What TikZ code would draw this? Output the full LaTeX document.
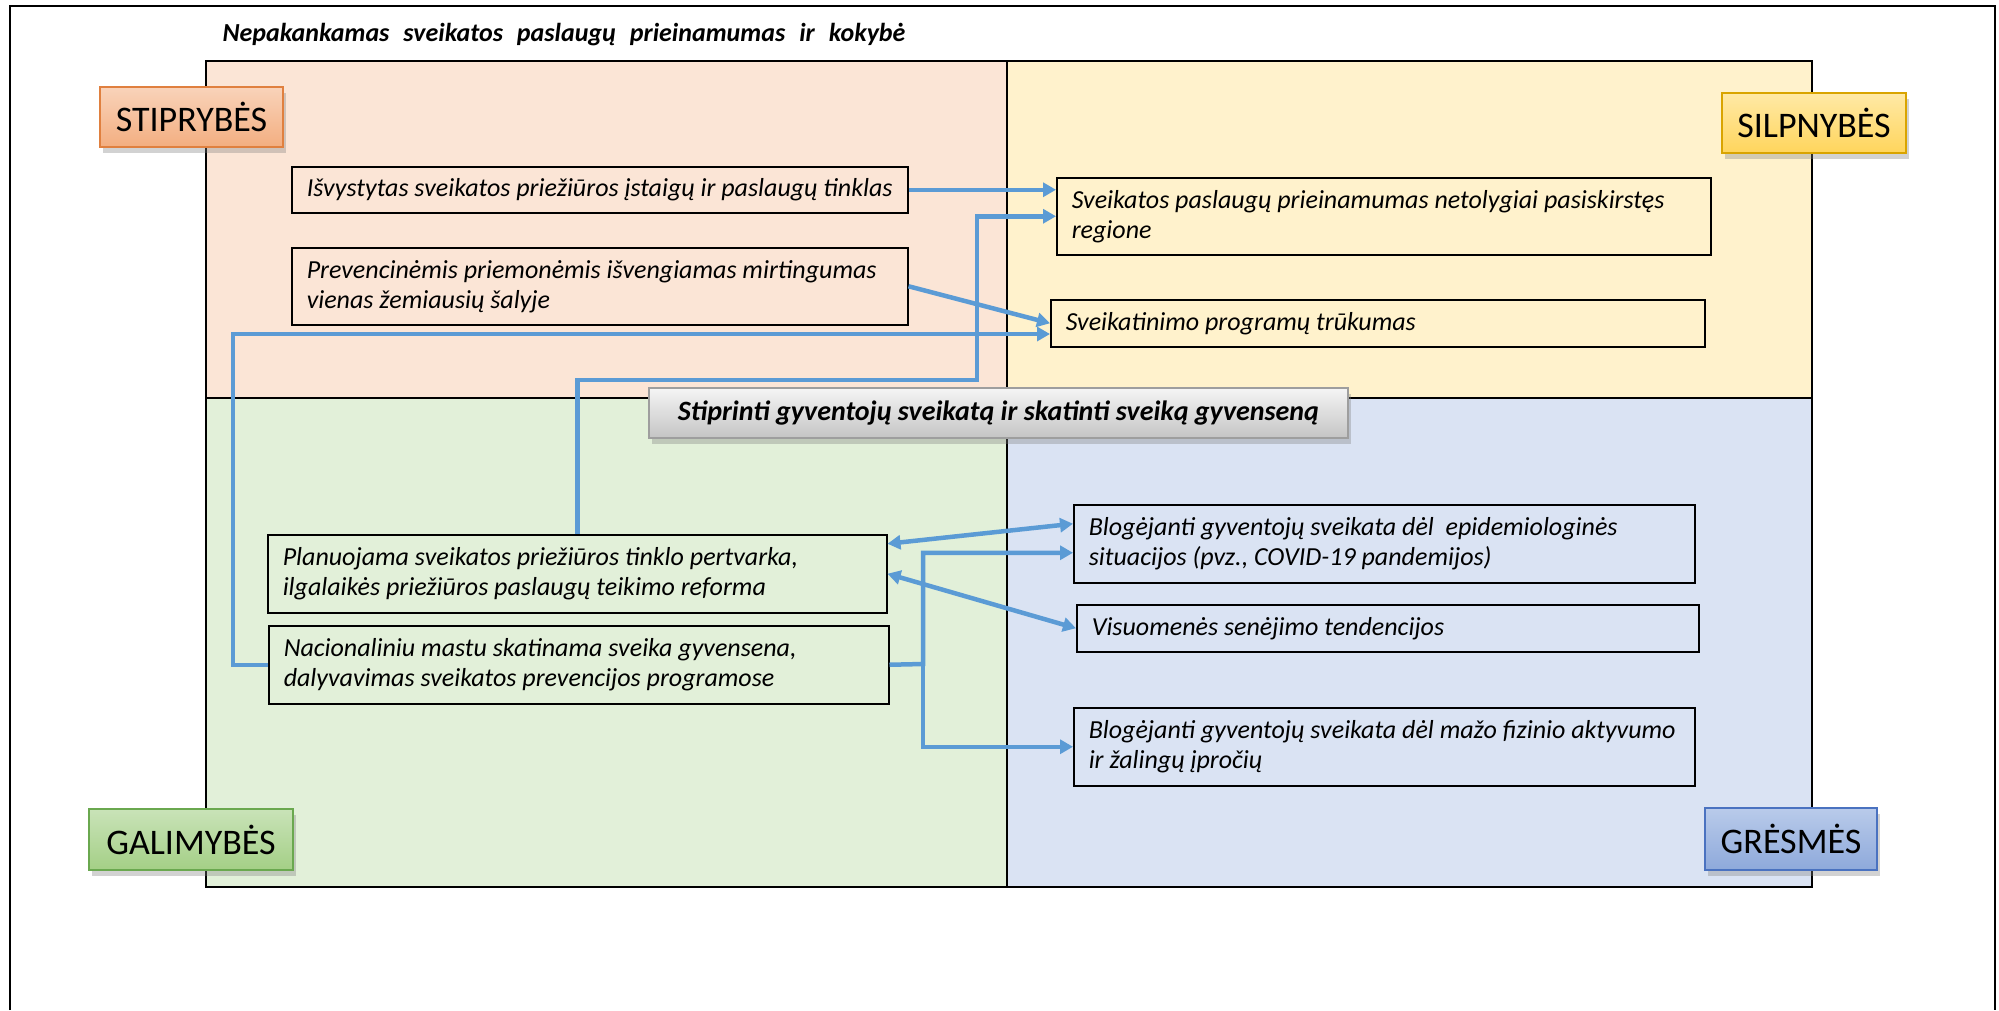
\documentclass[tikz,border=0pt]{standalone}
\usepackage{fontspec}
\setmainfont{Carlito}
\usepackage{xcolor}
\usetikzlibrary{arrows.meta,shadows}
\definecolor{arrblue}{HTML}{5B9BD5}
\definecolor{qpeach}{HTML}{FBE5D6}
\definecolor{qyellow}{HTML}{FFF2CC}
\definecolor{qgreen}{HTML}{E2F0D9}
\definecolor{qblue}{HTML}{DAE3F3}
\definecolor{stiptop}{HTML}{F9D3BA}
\definecolor{stipbot}{HTML}{F3AE80}
\definecolor{stipline}{HTML}{E0803F}
\definecolor{silptop}{HTML}{FFE9A6}
\definecolor{silpbot}{HTML}{FFD55C}
\definecolor{silpline}{HTML}{D9A400}
\definecolor{galtop}{HTML}{C9E3B8}
\definecolor{galbot}{HTML}{A4CF86}
\definecolor{galline}{HTML}{6AA84F}
\definecolor{grestop}{HTML}{B9CBEA}
\definecolor{gresbot}{HTML}{8EA9DB}
\definecolor{gresline}{HTML}{4A72C0}
\definecolor{goaltop}{HTML}{F5F5F5}
\definecolor{goalbot}{HTML}{C4C4C4}
\definecolor{goalline}{HTML}{9E9E9E}

\begin{document}
\begin{tikzpicture}[x=1pt,y=-1pt,
    box/.style={draw,line width=1.5pt,anchor=north west,align=flush left,inner xsep=15pt,inner ysep=0pt,font=\fontsize{26}{30}\selectfont\itshape},
    tag/.style={draw=#1,line width=1.2pt,inner sep=0pt,font=\fontsize{36}{42}\selectfont,drop shadow={shadow xshift=3pt,shadow yshift=-6pt,opacity=.35}},
    link/.style={arrblue,line width=4.5pt,-{Triangle[length=13pt,width=14pt]}},
    both/.style={link,{Triangle[length=13pt,width=14pt]}-{Triangle[length=13pt,width=14pt]}}]
        \useasboundingbox (0,0) rectangle (1999,1010);
        \fill[white] (0,0) rectangle (1999,1010);
        \fill[qpeach] (206,61) rectangle (1007,398);
        \fill[qyellow] (1007,61) rectangle (1812,398);
        \fill[qgreen] (206,398) rectangle (1007,887);
        \fill[qblue] (1007,398) rectangle (1812,887);
        \draw[line width=1.5pt] (206,61) rectangle (1812,887);
        \draw[line width=1.2pt] (1007,61) -- (1007,887) (206,398) -- (1812,398);
        \draw[line width=2pt] (10,1010) -- (10,6) -- (1995,6) -- (1995,1010);
        \node[anchor=west,font=\fontsize{26}{30}\selectfont\bfseries\itshape] (title) at (219,35) {\spaceskip=14pt\relax Nepakankamas sveikatos paslaugų prieinamumas ir kokybė};
        \node[tag=stipline,top color=stiptop,bottom color=stipbot,minimum width=183pt,minimum height=60pt] (stip) at (191.5,117) {STIPRYBĖS};
        \node[tag=silpline,top color=silptop,bottom color=silpbot,minimum width=184pt,minimum height=60pt] (silp) at (1814,123) {SILPNYBĖS};
        \node[tag=galline,top color=galtop,bottom color=galbot,minimum width=204pt,minimum height=61pt] (gal) at (191,839.5) {GALIMYBĖS};
        \node[tag=gresline,top color=grestop,bottom color=gresbot,minimum width=172pt,minimum height=62pt] (gres) at (1791,839) {GRĖSMĖS};
        \node[box,text width=586pt,minimum height=46pt] (s1) at (291,166) {Išvystytas sveikatos priežiūros įstaigų ir paslaugų tinklas};
        \node[box,text width=586pt,minimum height=77pt] (s2) at (291,247) {Prevencinėmis priemonėmis išvengiamas mirtingumas\\vienas žemiausių šalyje};
        \node[box,text width=624pt,minimum height=77pt] (w1) at (1056,177) {Sveikatos paslaugų prieinamumas netolygiai pasiskirstęs\\regione};
        \node[box,text width=624pt,minimum height=47pt] (w2) at (1050,299) {Sveikatinimo programų trūkumas};
        \node[box,text width=589pt,minimum height=78pt] (o1) at (267,534) {Planuojama sveikatos priežiūros tinklo pertvarka,\\ilgalaikės priežiūros paslaugų teikimo reforma};
        \node[box,text width=590pt,minimum height=78pt] (o2) at (268,625) {Nacionaliniu mastu skatinama sveika gyvensena,\\dalyvavimas sveikatos prevencijos programose};
        \node[box,text width=591pt,minimum height=78pt] (t1) at (1073,504) {Blogėjanti gyventojų sveikata dėl~ epidemiologinės\\situacijos (pvz., COVID-19 pandemijos)};
        \node[box,text width=592pt,minimum height=47pt] (t2) at (1076,604) {Visuomenės senėjimo tendencijos};
        \node[box,text width=591pt,minimum height=78pt] (t3) at (1073,707) {Blogėjanti gyventojų sveikata dėl mažo fizinio aktyvumo\\ir žalingų įpročių};
        \coordinate (k1) at (977,380);
        \coordinate (k2) at (233,334);
        \coordinate (k3) at (923,664);
        \draw[link] (s1.east) -- (s1.east -| w1.west);
        \draw[link] (o1.north) |- (k1) |- (w1.west);
        \draw[link] (s2.east) -- (w2.west);
        \draw[link] (o2.west) -| (k2) -- (k2 -| w2.west);
        \draw[both] ([yshift=30pt]o1.east) -- ([yshift=20pt]t1.west);
        \draw[both] (o1.east) -- (t2.west);
        \draw[link] (o2.east) -- (k3) |- ([yshift=-9pt]t1.west);
        \draw[link] (k3) |- (t3.west);
        \node[tag=goalline,top color=goaltop,bottom color=goalbot,minimum width=699pt,minimum height=50pt,font=\fontsize{28}{34}\selectfont\bfseries\itshape] (goal) at (998.5,413) {Stiprinti gyventojų sveikatą ir skatinti sveiką gyvenseną};
\end{tikzpicture}
\end{document}
